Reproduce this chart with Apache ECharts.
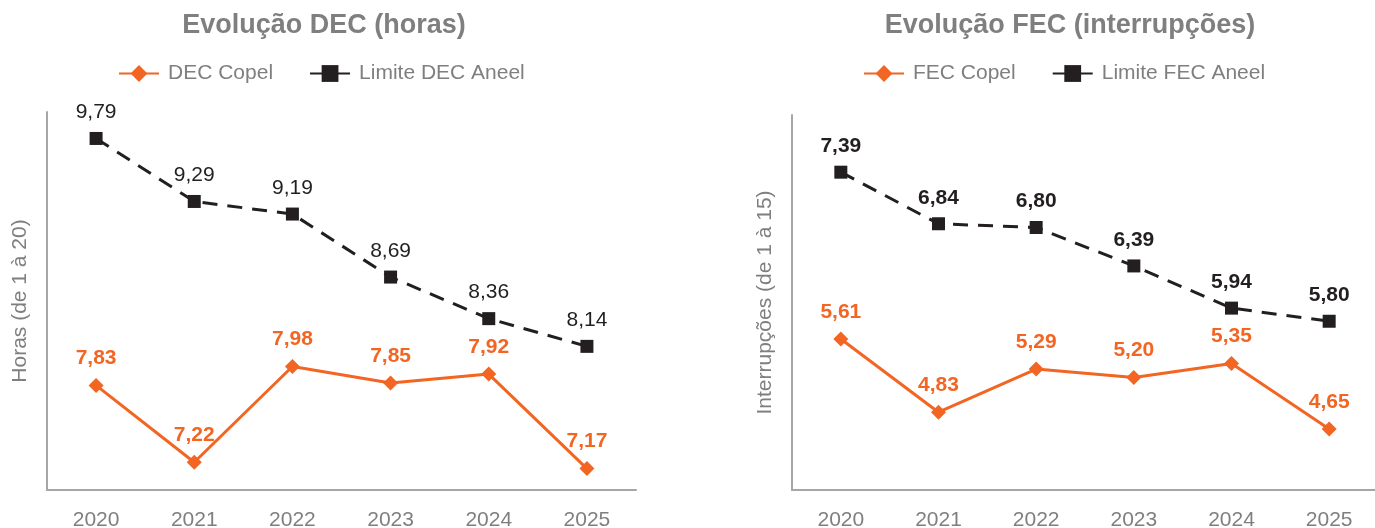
<!DOCTYPE html>
<html>
<head>
<meta charset="utf-8">
<script src="https://cdn.jsdelivr.net/npm/echarts@6/dist/echarts.min.js"></script>
<style>
html,body{margin:0;padding:0;background:#fff;}
#c{width:1375px;height:528px;}
</style>
</head>
<body>
<div id="c"></div>
<script>
const years = ['2020','2021','2022','2023','2024','2025'];
const decCopel = [7.83, 7.22, 7.98, 7.85, 7.92, 7.17];
const decAneel = [9.79, 9.29, 9.19, 8.69, 8.36, 8.14];
const fecCopel = [5.61, 4.83, 5.29, 5.20, 5.35, 4.65];
const fecAneel = [7.39, 6.84, 6.80, 6.39, 5.94, 5.80];

const ORANGE = '#F26522';
const BLACK = '#231F20';
const GRAY = '#7F7F7F';
const AXIS = '#A6A6A6';
const FONT = '"Liberation Sans", Arial, sans-serif';
const FS = 21;

const fmt = p => p.value.toFixed(2).replace('.', ',');

function lineSeries(name, data, idx, color, dashed, bold) {
  return {
    name: name, type: 'line', data: data,
    xAxisIndex: idx, yAxisIndex: idx,
    symbol: dashed ? 'rect' : 'diamond',
    symbolSize: dashed ? 13 : 15,
    lineStyle: { color: color, width: 3, type: dashed ? [15, 10] : 'solid' },
    itemStyle: { color: color },
    label: {
      show: true, position: 'top', distance: 9,
      formatter: fmt, color: color,
      fontFamily: FONT, fontSize: FS, fontWeight: bold ? 'bold' : 'normal'
    },
    emphasis: { disabled: true },
    animation: false
  };
}

function xAx(idx) {
  return {
    type: 'category', gridIndex: idx, data: years, boundaryGap: true,
    axisLine: { show: true, lineStyle: { color: AXIS, width: 2 } },
    axisTick: { show: false },
    axisLabel: { color: GRAY, fontFamily: FONT, fontSize: FS, margin: 20 }
  };
}
function yAx(idx, min, max, name) {
  return {
    type: 'value', gridIndex: idx, min: min, max: max,
    name: name, nameLocation: 'middle', nameGap: 16,
    nameTextStyle: { color: GRAY, fontFamily: FONT, fontSize: FS },
    axisLine: { show: true, lineStyle: { color: AXIS, width: 2 } },
    axisTick: { show: false },
    axisLabel: { show: false },
    splitLine: { show: false }
  };
}

const legendBase = {
  top: 58, itemWidth: 40, itemHeight: 21, itemGap: 36,
  textStyle: { color: GRAY, fontFamily: FONT, fontSize: FS, padding: [0, 0, 0, 4] }
};

const chart = echarts.init(document.getElementById('c'), null, { renderer: 'canvas' });
chart.setOption({
  backgroundColor: '#fff',
  animation: false,
  title: [
    { text: 'Evolução DEC (horas)', left: 319, top: 7, textAlign: 'center',
      textStyle: { color: GRAY, fontFamily: FONT, fontSize: 27, fontWeight: 'bold' } },
    { text: 'Evolução FEC (interrupções)', left: 1065, top: 7, textAlign: 'center',
      textStyle: { color: GRAY, fontFamily: FONT, fontSize: 27, fontWeight: 'bold' } }
  ],
  legend: [
    Object.assign({}, legendBase, { data: ['DEC Copel', 'Limite DEC Aneel'], left: 113 }),
    Object.assign({}, legendBase, { data: ['FEC Copel', 'Limite FEC Aneel'], left: 858 })
  ],
  grid: [
    { left: 47, top: 112, width: 589, height: 378, outerBoundsMode: 'none', containLabel: false },
    { left: 792, top: 115, width: 586, height: 375, outerBoundsMode: 'none', containLabel: false }
  ],
  xAxis: [xAx(0), xAx(1)],
  yAxis: [yAx(0, 7, 10, 'Horas (de 1 à 20)'), yAx(1, 4, 8, 'Interrupções (de 1 à 15)')],
  series: [
    lineSeries('DEC Copel', decCopel, 0, ORANGE, false, true),
    lineSeries('Limite DEC Aneel', decAneel, 0, BLACK, true, false),
    lineSeries('FEC Copel', fecCopel, 1, ORANGE, false, true),
    lineSeries('Limite FEC Aneel', fecAneel, 1, BLACK, true, true)
  ]
});
</script>
</body>
</html>
